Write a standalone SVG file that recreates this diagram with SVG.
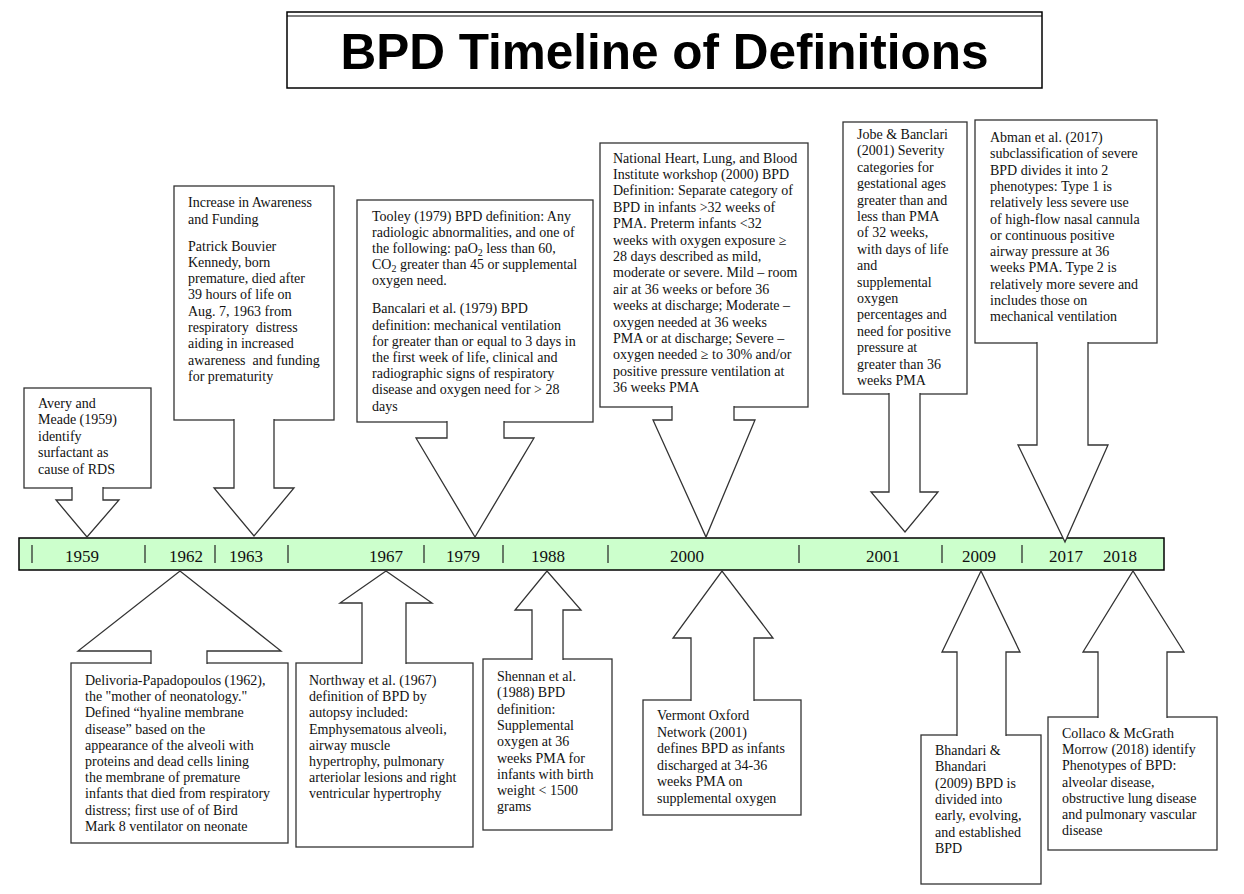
<svg xmlns="http://www.w3.org/2000/svg" width="1244" height="894" viewBox="0 0 1244 894">
<style>
.box{fill:#fff;stroke:#333;stroke-width:1.3}
.arr{fill:#fff;stroke:#333;stroke-width:1.3;stroke-linejoin:miter}
.t{font-family:"Liberation Serif","Times New Roman",serif;font-size:14px;fill:#111}
.yr{font-family:"Liberation Serif","Times New Roman",serif;font-size:17px;fill:#111;text-anchor:middle}
.tick{stroke:#222;stroke-width:1.2}
</style>
<rect width="1244" height="894" fill="#fff"/>
<g id="title">
<rect x="287" y="12" width="755" height="76" fill="#fff" stroke="#000" stroke-width="1.5"/>
<line x1="287" y1="16" x2="1042" y2="16" stroke="#000" stroke-width="1.2"/>
<text x="664.5" y="69" text-anchor="middle" font-family="'Liberation Sans',Arial,sans-serif" font-weight="bold" font-size="49.5">BPD Timeline of Definitions</text>
</g>
<g id="timeline">
<rect x="19" y="538" width="1145" height="32" fill="#ccffcc" stroke="#000" stroke-width="1.5"/>
<g class="tick">
<line x1="32" y1="545" x2="32" y2="563"/><line x1="145" y1="545" x2="145" y2="563"/><line x1="215" y1="545" x2="215" y2="563"/><line x1="288" y1="545" x2="288" y2="563"/><line x1="424" y1="545" x2="424" y2="563"/><line x1="503" y1="545" x2="503" y2="563"/><line x1="608" y1="545" x2="608" y2="563"/><line x1="799" y1="545" x2="799" y2="563"/><line x1="942" y1="545" x2="942" y2="563"/><line x1="1022" y1="545" x2="1022" y2="563"/>
</g>
<text class="yr" x="82" y="562">1959</text><text class="yr" x="186" y="562">1962</text><text class="yr" x="246" y="562">1963</text><text class="yr" x="386" y="562">1967</text><text class="yr" x="463" y="562">1979</text><text class="yr" x="548" y="562">1988</text><text class="yr" x="687" y="562">2000</text><text class="yr" x="883" y="562">2001</text><text class="yr" x="979" y="562">2009</text><text class="yr" x="1066" y="562">2017</text><text class="yr" x="1120" y="562">2018</text>
</g>
<g id="n1959">
<rect class="box" x="24" y="388" width="127" height="100"/>
<text class="t" x="38" y="408">Avery and<tspan x="38" dy="16.4">Meade (1959)</tspan><tspan x="38" dy="16.4">identify</tspan><tspan x="38" dy="16.4">surfactant as</tspan><tspan x="38" dy="16.4">cause of RDS</tspan></text>
</g>
<g id="n1963">
<rect class="box" x="174" y="186" width="160" height="234"/>
<text class="t" x="188" y="207" xml:space="preserve">Increase in Awareness<tspan x="188" dy="16.5">and Funding</tspan><tspan x="188" dy="27">Patrick Bouvier</tspan><tspan x="188" dy="16.3">Kennedy, born</tspan><tspan x="188" dy="16.3">premature, died after</tspan><tspan x="188" dy="16.3">39 hours of life on</tspan><tspan x="188" dy="16.3">Aug. 7, 1963 from</tspan><tspan x="188" dy="16.3">respiratory  distress</tspan><tspan x="188" dy="16.3">aiding in increased</tspan><tspan x="188" dy="16.3">awareness  and funding</tspan><tspan x="188" dy="16.3">for prematurity</tspan></text>
</g>
<g id="n1979">
<rect class="box" x="357" y="200" width="236" height="222"/>
<text class="t" x="372" y="220.5">Tooley (1979) BPD definition: Any<tspan x="372" dy="16.2">radiologic abnormalities, and one of</tspan><tspan x="372" dy="16.2">the following: paO</tspan><tspan dy="3" font-size="10">2</tspan><tspan dy="-3"> less than 60,</tspan><tspan x="372" dy="16.2">CO</tspan><tspan dy="3" font-size="10">2</tspan><tspan dy="-3"> greater than 45 or supplemental</tspan><tspan x="372" dy="16.2">oxygen need.</tspan><tspan x="372" dy="28">Bancalari et al. (1979) BPD</tspan><tspan x="372" dy="16.2">definition: mechanical ventilation</tspan><tspan x="372" dy="16.2">for greater than or equal to 3 days in</tspan><tspan x="372" dy="16.2">the first week of life, clinical and</tspan><tspan x="372" dy="16.2">radiographic signs of respiratory</tspan><tspan x="372" dy="16.2">disease and oxygen need for &gt; 28</tspan><tspan x="372" dy="16.2">days</tspan></text>
</g>
<g id="n2000a">
<rect class="box" x="600" y="143" width="208" height="264"/>
<text class="t" x="613" y="162.5">National Heart, Lung, and Blood<tspan x="613" dy="16.4">Institute workshop (2000) BPD</tspan><tspan x="613" dy="16.4">Definition: Separate category of</tspan><tspan x="613" dy="16.4">BPD in infants &gt;32 weeks of</tspan><tspan x="613" dy="16.4">PMA. Preterm infants &lt;32</tspan><tspan x="613" dy="16.4">weeks with oxygen exposure ≥</tspan><tspan x="613" dy="16.4">28 days described as mild,</tspan><tspan x="613" dy="16.4">moderate or severe. Mild – room</tspan><tspan x="613" dy="16.4">air at 36 weeks or before 36</tspan><tspan x="613" dy="16.4">weeks at discharge; Moderate –</tspan><tspan x="613" dy="16.4">oxygen needed at 36 weeks</tspan><tspan x="613" dy="16.4">PMA or at discharge; Severe –</tspan><tspan x="613" dy="16.4">oxygen needed ≥ to 30% and/or</tspan><tspan x="613" dy="16.4">positive pressure ventilation at</tspan><tspan x="613" dy="16.4">36 weeks PMA</tspan></text>
</g>
<g id="n2001">
<rect class="box" x="843" y="122" width="124" height="272"/>
<text class="t" x="857" y="139">Jobe &amp; Banclari<tspan x="857" dy="16.4">(2001) Severity</tspan><tspan x="857" dy="16.4">categories for</tspan><tspan x="857" dy="16.4">gestational ages</tspan><tspan x="857" dy="16.4">greater than and</tspan><tspan x="857" dy="16.4">less than PMA</tspan><tspan x="857" dy="16.4">of 32 weeks,</tspan><tspan x="857" dy="16.4">with days of life</tspan><tspan x="857" dy="16.4">and</tspan><tspan x="857" dy="16.4">supplemental</tspan><tspan x="857" dy="16.4">oxygen</tspan><tspan x="857" dy="16.4">percentages and</tspan><tspan x="857" dy="16.4">need for positive</tspan><tspan x="857" dy="16.4">pressure at</tspan><tspan x="857" dy="16.4">greater than 36</tspan><tspan x="857" dy="16.4">weeks PMA</tspan></text>
</g>
<g id="n2017">
<rect class="box" x="975" y="120" width="182" height="223"/>
<text class="t" x="990" y="142">Abman et al. (2017)<tspan x="990" dy="16.3">subclassification of severe</tspan><tspan x="990" dy="16.3">BPD divides it into 2</tspan><tspan x="990" dy="16.3">phenotypes: Type 1 is</tspan><tspan x="990" dy="16.3">relatively less severe use</tspan><tspan x="990" dy="16.3">of high-flow nasal cannula</tspan><tspan x="990" dy="16.3">or continuous positive</tspan><tspan x="990" dy="16.3">airway pressure at 36</tspan><tspan x="990" dy="16.3">weeks PMA. Type 2 is</tspan><tspan x="990" dy="16.3">relatively more severe and</tspan><tspan x="990" dy="16.3">includes those on</tspan><tspan x="990" dy="16.3">mechanical ventilation</tspan></text>
</g>
<g id="n1962">
<rect class="box" x="71" y="663" width="217" height="180"/>
<text class="t" x="85" y="685">Delivoria-Papadopoulos (1962),<tspan x="85" dy="16.2">the "mother of neonatology."</tspan><tspan x="85" dy="16.2">Defined “hyaline membrane</tspan><tspan x="85" dy="16.2">disease” based on the</tspan><tspan x="85" dy="16.2">appearance of the alveoli with</tspan><tspan x="85" dy="16.2">proteins and dead cells lining</tspan><tspan x="85" dy="16.2">the membrane of premature</tspan><tspan x="85" dy="16.2">infants that died from respiratory</tspan><tspan x="85" dy="16.2">distress; first use of of Bird</tspan><tspan x="85" dy="16.2">Mark 8 ventilator on neonate</tspan></text>
</g>
<g id="n1967">
<rect class="box" x="296" y="663" width="177" height="184"/>
<text class="t" x="309" y="685">Northway et al. (1967)<tspan x="309" dy="16.2">definition of BPD by</tspan><tspan x="309" dy="16.2">autopsy included:</tspan><tspan x="309" dy="16.2">Emphysematous alveoli,</tspan><tspan x="309" dy="16.2">airway muscle</tspan><tspan x="309" dy="16.2">hypertrophy, pulmonary</tspan><tspan x="309" dy="16.2">arteriolar lesions and right</tspan><tspan x="309" dy="16.2">ventricular hypertrophy</tspan></text>
</g>
<g id="n1988">
<rect class="box" x="483" y="659" width="129" height="171"/>
<text class="t" x="497" y="681">Shennan et al.<tspan x="497" dy="16.3">(1988) BPD</tspan><tspan x="497" dy="16.3">definition:</tspan><tspan x="497" dy="16.3">Supplemental</tspan><tspan x="497" dy="16.3">oxygen at 36</tspan><tspan x="497" dy="16.3">weeks PMA for</tspan><tspan x="497" dy="16.3">infants with birth</tspan><tspan x="497" dy="16.3">weight &lt; 1500</tspan><tspan x="497" dy="16.3">grams</tspan></text>
</g>
<g id="n2000b">
<rect class="box" x="643" y="700" width="158" height="115"/>
<text class="t" x="657" y="720">Vermont Oxford<tspan x="657" dy="16.5">Network (2001)</tspan><tspan x="657" dy="16.5">defines BPD as infants</tspan><tspan x="657" dy="16.5">discharged at 34-36</tspan><tspan x="657" dy="16.5">weeks PMA on</tspan><tspan x="657" dy="16.5">supplemental oxygen</tspan></text>
</g>
<g id="n2009">
<rect class="box" x="921" y="735" width="120" height="149"/>
<text class="t" x="935" y="755">Bhandari &amp;<tspan x="935" dy="16.3">Bhandari</tspan><tspan x="935" dy="16.3">(2009) BPD is</tspan><tspan x="935" dy="16.3">divided into</tspan><tspan x="935" dy="16.3">early, evolving,</tspan><tspan x="935" dy="16.3">and established</tspan><tspan x="935" dy="16.3">BPD</tspan></text>
</g>
<g id="n2018">
<rect class="box" x="1048" y="717" width="169" height="133"/>
<text class="t" x="1062" y="738">Collaco &amp; McGrath<tspan x="1062" dy="16.2">Morrow (2018) identify</tspan><tspan x="1062" dy="16.2">Phenotypes of BPD:</tspan><tspan x="1062" dy="16.2">alveolar disease,</tspan><tspan x="1062" dy="16.2">obstructive lung disease</tspan><tspan x="1062" dy="16.2">and pulmonary vascular</tspan><tspan x="1062" dy="16.2">disease</tspan></text>
</g>
<g id="connectors">
<path class="arr" d="M72 487 V500 H56 L87 537 L119 500 H103 V487"/>
<path class="arr" d="M234 419 V488 H214 L254 536 L294 488 H274 V419"/>
<path class="arr" d="M447 421 V438 H416 L475 537 L534 438 H504 V421"/>
<path class="arr" d="M672 406 V420 H653 L706 537 L755 420 H734 V406"/>
<path class="arr" d="M889 393 V492 H871 L905 532 L938 492 H920 V393"/>
<path class="arr" d="M1037 342 V445 H1018 L1065 542 L1108 445 H1088 V342"/>
<path class="arr" d="M151 664 V651 H78 L180 571 L281 651 H207 V664"/>
<path class="arr" d="M362 664 V603 H340 L386 571 L432 603 H406 V664"/>
<path class="arr" d="M532 660 V610 H515 L547 571 L581 610 H563 V660"/>
<path class="arr" d="M691 701 V638 H673 L722 571 L773 638 H754 V701"/>
<path class="arr" d="M957 736 V652 H942 L981 571 L1020 652 H1006 V736"/>
<path class="arr" d="M1098 718 V652 H1083 L1133 571 L1184 652 H1167 V718"/>
</g>
</svg>
